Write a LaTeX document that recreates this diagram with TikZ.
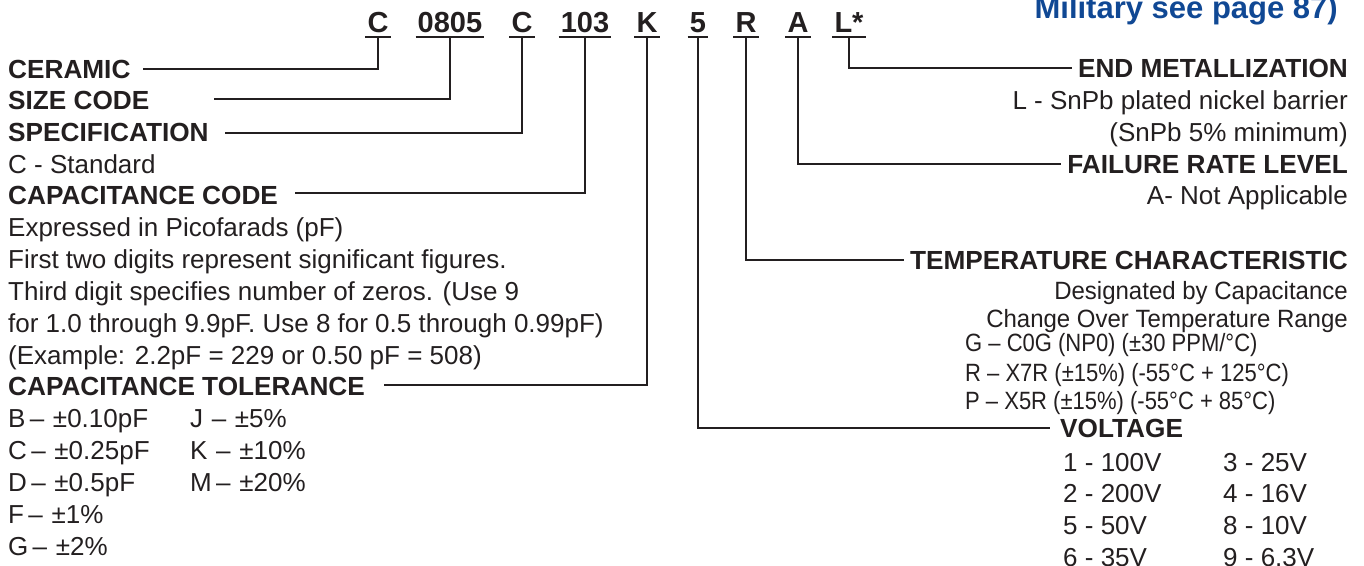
\documentclass[tikz,border=0pt]{standalone}
\usepackage{fontspec}
\setmainfont{Liberation Sans}
\newfontfamily\condfont{Liberation Sans}[FakeStretch=0.88]
\newfontfamily\semifont{Liberation Sans}[FakeStretch=0.96]
\usetikzlibrary{calc}
\definecolor{TitleClr}{RGB}{16,72,148}
\definecolor{InkClr}{RGB}{35,31,32}

\begin{document}
\begin{tikzpicture}[x=1pt,y=-1pt,
  codetxt/.style={font=\fontsize{29}{29}\selectfont\bfseries,text=InkClr,inner xsep=2pt,inner ysep=4pt,text height=20pt,text depth=0pt,anchor=south},
  lbl/.style={font=\fontsize{26.2}{26.2}\selectfont\bfseries,text=InkClr,inner sep=0pt,text height=18pt,text depth=0pt},
  txt/.style={font=\fontsize{26}{26}\selectfont,text=InkClr,inner sep=0pt,text height=18pt,text depth=0pt},
  cnd/.style={font=\condfont\fontsize{25}{25}\selectfont,text=InkClr,inner sep=0pt,text height=18pt,text depth=0pt},
  smi/.style={font=\semifont\fontsize{25}{25}\selectfont,text=InkClr,inner sep=0pt,text height=18pt,text depth=0pt},
  conn/.style={draw=InkClr,line width=1.8pt}]
\useasboundingbox (0,0) rectangle (1364,565);

\node[font=\fontsize{31}{31}\selectfont\bfseries,text=TitleClr,anchor=base east,inner sep=0pt] (title) at (1338,18) {Military see page 87)};

% part number
\node[codetxt] (cC) at (378,37) {C};
\node[codetxt] (cSize) at (450,37) {0805};
\node[codetxt] (cSpec) at (522,37) {C};
\node[codetxt] (cCap) at (585,37) {103};
\node[codetxt] (cTol) at (647,37) {K};
\node[codetxt] (cVolt) at (698,37) {5};
\node[codetxt] (cTemp) at (746,37) {R};
\node[codetxt] (cRate) at (798,37) {A};
\node[codetxt] (cEnd) at (849,37) {L*};
\foreach \n in {cC,cSize,cSpec,cCap,cTol,cVolt,cTemp,cRate,cEnd}
  \draw[conn] (\n.south west) -- (\n.south east);

% left column
\node[lbl,anchor=west] (ceramic) at (8,69) {CERAMIC};
\node[lbl,anchor=west] (size) at (8,100) {SIZE CODE};
\node[lbl,anchor=west] (spec) at (8,132) {SPECIFICATION};
\node[txt,anchor=west] (specA) at (8,164) {C - Standard};
\node[lbl,anchor=west] (cap) at (8,195) {CAPACITANCE CODE};
\node[txt,anchor=west] (capA) at (8,227) {Expressed in Picofarads (pF)};
\node[txt,anchor=west] (capB) at (8,259) {First two digits represent significant figures.};
\node[txt,anchor=west] (capC) at (8,291) {Third digit specifies number of zeros. (Use 9};
\node[txt,anchor=west] (capD) at (8,323) {for 1.0 through 9.9pF. Use 8 for 0.5 through 0.99pF)};
\node[txt,anchor=west] (capE) at (8,355) {(Example: 2.2pF = 229 or 0.50 pF = 508)};
\node[lbl,anchor=west] (tol) at (8,386) {CAPACITANCE TOLERANCE};
\node[txt,anchor=west] (tolB) at (8,418) {B\,–\,\,±0.10pF};
\node[txt,anchor=west] (tolC) at (8,450) {C\,–\,\,±0.25pF};
\node[txt,anchor=west] (tolD) at (8,482) {D\,–\,\,±0.5pF};
\node[txt,anchor=west] (tolF) at (8,514) {F\,–\,\,±1\%};
\node[txt,anchor=west] (tolG) at (8,546) {G\,–\,\,±2\%};
\node[txt,anchor=west] (tolJ) at (190,418) {J\,\,–\,\,±5\%};
\node[txt,anchor=west] (tolK) at (190,450) {K\,\,–\,\,±10\%};
\node[txt,anchor=west] (tolM) at (190,482) {M\,–\,\,±20\%};

% right column
\node[lbl,anchor=east] (endm) at (1348,68) {END METALLIZATION};
\node[txt,anchor=east] (endA) at (1348,100) {L - SnPb plated nickel barrier};
\node[txt,anchor=east] (endB) at (1348,132) {(SnPb 5\% minimum)};
\node[lbl,anchor=east] (rate) at (1348,164) {FAILURE RATE LEVEL};
\node[txt,anchor=east] (rateA) at (1348,195) {A- Not Applicable};
\node[lbl,anchor=east] (temp) at (1348,260) {TEMPERATURE CHARACTERISTIC};
\node[smi,anchor=east] (tempA) at (1348,290) {Designated by Capacitance};
\node[smi,anchor=east] (tempB) at (1348,318) {Change Over Temperature Range};
\node[cnd,anchor=west] (tempG) at (965,342) {G – C0G (NP0) (±30 PPM/°C)};
\node[cnd,anchor=west] (tempR) at (965,372) {R – X7R (±15\%) (-55°C + 125°C)};
\node[cnd,anchor=west] (tempP) at (965,400) {P – X5R (±15\%) (-55°C + 85°C)};
\node[lbl,anchor=west] (volt) at (1060,428) {VOLTAGE};
\node[txt,anchor=west] (v1) at (1063,462) {1 - 100V};
\node[txt,anchor=west] (v2) at (1063,493) {2 - 200V};
\node[txt,anchor=west] (v5) at (1063,525) {5 - 50V};
\node[txt,anchor=west] (v6) at (1063,557) {6 - 35V};
\node[txt,anchor=west] (v3) at (1223,462) {3 - 25V};
\node[txt,anchor=west] (v4) at (1223,493) {4 - 16V};
\node[txt,anchor=west] (v8) at (1223,525) {8 - 10V};
\node[txt,anchor=west] (v9) at (1223,557) {9 - 6.3V};

% free ends of the leaders on the left
\coordinate (ceramicEnd) at (143,69);
\coordinate (sizeEnd) at (214,99);
\coordinate (specEnd) at (225,133);
\coordinate (capEnd) at (295,193);
\coordinate (tolEnd) at (384,385);

\draw[conn] (ceramicEnd) -| (cC.south);
\draw[conn] (sizeEnd) -| (cSize.south);
\draw[conn] (specEnd) -| (cSpec.south);
\draw[conn] (capEnd) -| (cCap.south);
\draw[conn] (tolEnd) -| (cTol.south);
\draw[conn,shorten >=6pt] (cEnd.south) |- (endm.west);
\draw[conn,shorten >=6pt] (cRate.south) |- (rate.west);
\draw[conn,shorten >=6pt] (cTemp.south) |- (temp.west);
\draw[conn,shorten >=10pt] (cVolt.south) |- (volt.west);
\end{tikzpicture}
\end{document}
